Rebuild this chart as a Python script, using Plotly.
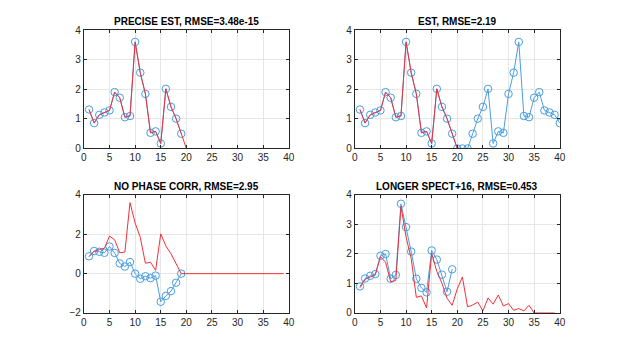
import plotly.graph_objects as go

# ---- data ----
x40 = list(range(1, 41))
x39 = list(range(1, 40))
x19 = list(range(1, 20))

# original signal (red), 19 samples then zero padding
orig = [1.32, 0.86, 1.14, 1.22, 1.29, 1.91, 1.72, 1.06, 1.10, 3.61,
        2.57, 1.85, 0.53, 0.58, 0.17, 2.02, 1.41, 1.01, 0.50]
orig_pad = orig + [0.0] * 21

# panel 1: precise estimate (19 pts)
precise_est = list(orig)

# panel 2: estimate over full 40 samples
est40 = orig + [0.0, 0.0, 0.0,
                0.50, 1.01, 1.41, 2.02, 0.17, 0.58, 0.53, 1.85, 2.57, 3.61,
                1.10, 1.06, 1.72, 1.91, 1.29, 1.22, 1.14, 0.86]

# panel 3: no phase correction
nophase_est = [0.88, 1.15, 1.11, 1.06, 1.38, 1.05, 0.52, 0.36, 0.59, 0.0,
               -0.26, -0.13, -0.23, -0.10, -1.43, -1.13, -0.89, -0.46, 0.0]
ref_shift = orig[1:] + [0.0] * 21

# panel 4: longer spectrum
longer_est = [0.90, 1.17, 1.26, 1.32, 1.94, 2.00, 1.16, 1.29, 3.70, 2.91,
              2.08, 1.16, 0.85, 0.70, 2.12, 1.81, 1.30, 0.72, 1.48]
longer_ref = orig[1:] + [0.26, 0.82, 1.22, 0.21, 0.27, 0.37, 0.07, 0.51, 0.30,
                         0.61, 0.24, 0.32, 0.09, 0.15, 0.07, 0.26, 0.0,
                         0.0, 0.0, 0.0, 0.0]

titles = ["PRECISE EST, RMSE=3.48e-15", "EST, RMSE=2.19",
          "NO PHASE CORR, RMSE=2.95", "LONGER SPECT+16, RMSE=0.453"]

BLUE = "#4a9de0"
RED = "#f0303a"

# page body has an 8px margin, so the figure is 16px smaller than the window
W, H = 608, 341

fig = go.Figure()

panels = [
    (x19, precise_est, x40, orig_pad),
    (x40, est40, x40, orig_pad),
    (x19, nophase_est, x39, ref_shift),
    (x19, longer_est, x39, longer_ref),
]

xdomains = [[74 / W, 282 / W], [349 / W, 557 / W]]
ydomains = [[1 - 140 / H, 1 - 18 / H], [1 - 310 / H, 1 - 188 / H]]

for i, (bx, by, rx, ry) in enumerate(panels):
    n = "" if i == 0 else str(i + 1)
    fig.add_trace(go.Scatter(x=bx, y=by, mode="lines+markers",
                             line=dict(color=BLUE, width=1),
                             marker=dict(symbol="circle-open", size=7.5, color=BLUE, line=dict(width=1)),
                             xaxis="x" + n, yaxis="y" + n, showlegend=False))
    fig.add_trace(go.Scatter(x=rx, y=ry, mode="lines",
                             line=dict(color=RED, width=1),
                             xaxis="x" + n, yaxis="y" + n, showlegend=False))

    xd = xdomains[i % 2]
    yd = ydomains[i // 2]
    if i == 2:
        yr, dt = [-2, 4], 2
    else:
        yr, dt = [0, 4], 1
    axis_common = dict(showline=True, linecolor="#262626", linewidth=1, mirror="ticks",
                       ticks="inside", ticklen=3, tickcolor="#262626",
                       showgrid=True, gridcolor="#e6e6e6", zeroline=False,
                       tickfont=dict(family="Liberation Sans, Arial", size=10, color="#262626"))
    fig.update_layout({
        "xaxis" + n: dict(domain=xd, range=[0, 40], dtick=5, tick0=0,
                          anchor="y" + n, **axis_common),
        "yaxis" + n: dict(domain=yd, range=yr, dtick=dt, tick0=0,
                          anchor="x" + n, **axis_common),
    })
    fig.add_annotation(text="<b>" + titles[i] + "</b>", xref="paper", yref="paper",
                       x=(xd[0] + xd[1]) / 2, y=yd[1], yanchor="bottom", xanchor="center",
                       showarrow=False, yshift=1,
                       font=dict(family="Liberation Sans, Arial", size=10, color="black"))

fig.update_layout(width=W, height=H, margin=dict(l=0, r=0, t=0, b=0),
                  paper_bgcolor="white", plot_bgcolor="white")

fig.write_html("out.html")
